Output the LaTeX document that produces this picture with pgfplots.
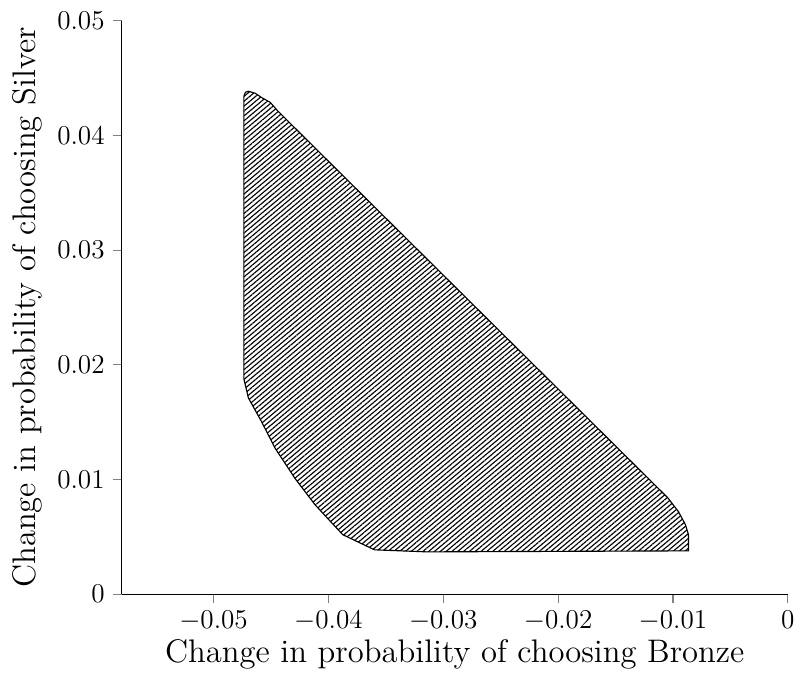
\documentclass[border=0pt]{standalone}
\usepackage{pgfplots}
\pgfplotsset{compat=1.18}
\usetikzlibrary{patterns.meta}

\begin{document}
\begin{tikzpicture}
\begin{axis}[
    scale only axis,
    width=294pt, height=253pt,
    xmin=-0.058, xmax=0,
    ymin=0, ymax=0.05,
    axis x line*=bottom,
    axis y line*=left,
    axis line style={-, line width=0.5pt},
    tick align=outside,
    major tick length=4pt,
    tick style={line width=0.5pt},
    xtick={-0.05,-0.04,-0.03,-0.02,-0.01,0},
    ytick={0,0.01,0.02,0.03,0.04,0.05},
    scaled ticks=false,
    /pgf/number format/.cd, fixed, precision=2,
    /pgfplots/.cd,
    tick label style={font=\large},
    xlabel={Change in probability of choosing Bronze},
    ylabel={Change in probability of choosing Silver},
    label style={font=\Large},
    xlabel style={yshift=3pt},
    ylabel style={yshift=0pt},
]
% region boundary, traced clockwise from the top-left corner
\addplot[black, line width=0.5pt,
    pattern={Lines[angle=40, distance=1.65pt, line width=0.5pt]}]
  coordinates {
    (-0.04736,0.04342) (-0.04723,0.04377) (-0.04697,0.04386)
    (-0.04637,0.04368) (-0.04585,0.04333) (-0.04507,0.04289)
    (-0.04438,0.04211) (-0.01047,0.00842) (-0.00952,0.00719)
    (-0.00891,0.00605) (-0.00865,0.00518) (-0.00865,0.00377)
    (-0.03140,0.00368) (-0.03599,0.00386) (-0.03875,0.00518)
    (-0.04005,0.00658) (-0.04118,0.00781) (-0.04291,0.01009)
    (-0.04464,0.01272) (-0.04585,0.01509) (-0.04697,0.01711)
    (-0.04736,0.01877)
  } -- cycle;
\end{axis}
% a little white margin on the left and top, as in the reference
\path ([xshift=-2pt,yshift=2pt]current bounding box.north west);
\end{tikzpicture}
\end{document}
